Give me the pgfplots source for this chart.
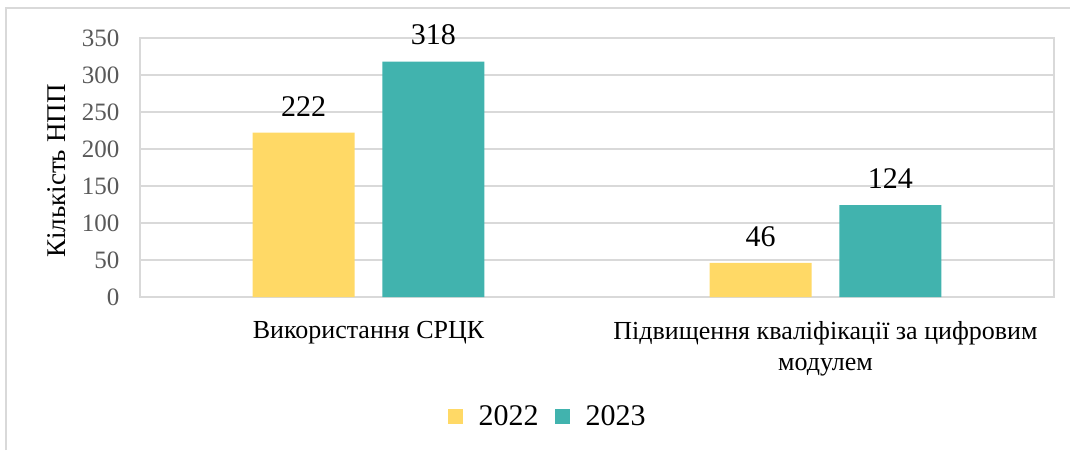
\documentclass[border=0pt]{standalone}
\usepackage{pgfplots}
\pgfplotsset{compat=1.18}
\usepackage{fontspec}
\setmainfont{Liberation Serif}
\definecolor{yel}{HTML}{FFD966}
\definecolor{teal2}{HTML}{41B3AE}
\definecolor{gridc}{HTML}{D9D9D9}
\definecolor{tickc}{HTML}{595959}
\begin{document}
\begin{tikzpicture}[x=1pt,y=1pt]
\useasboundingbox (0,0) rectangle (1070,450);
\draw[gridc, line width=1.2pt] (6,0) -- (6,442) -- (1070,442);
\begin{axis}[
    at={(140pt,153pt)}, anchor=south west,
    scale only axis,
    width=914pt, height=259pt,
    ybar, bar width=0.223,
    xmin=-0.5, xmax=1.5,
    ymin=0, ymax=350,
    ytick={0,50,...,350},
    xtick={0,1},
    xticklabels={Використання СРЦК, {Підвищення кваліфікації за цифровим\\модулем}},
    xticklabel style={align=center, font=\fontsize{26}{31}\selectfont, text=black, yshift=-21pt},
    yticklabel style={font=\fontsize{25}{28}\selectfont, text=tickc, xshift=-17pt},
    /pgf/number format/assume math mode=true,
    major tick length=0pt,
    ymajorgrids=true,
    grid style={gridc, line width=1.2pt},
    axis line style={gridc, line width=1.2pt},
    ylabel={Кількість НПП},
    ylabel style={font=\fontsize{27}{30}\selectfont, at={(axis description cs:-0.0913,0.486)}, anchor=center},
    nodes near coords,
    every node near coord/.append style={font=\fontsize{30}{34}\selectfont, text=black, yshift=13pt},
    legend style={at={(0.446,-0.46)}, anchor=center, draw=none, legend columns=2,
        font=\fontsize{30}{34}\selectfont, column sep=14pt},
    legend image code/.code={\fill[#1] (0pt,-8pt) rectangle (15pt,7pt);},
]
\addplot[fill=yel, draw=none, bar shift=-0.142]
    coordinates {(0,222) (1,46)};
\addplot[fill=teal2, draw=none, bar shift=0.142]
    coordinates {(0,318) (1,124)};
\legend{2022, 2023}
\end{axis}
\end{tikzpicture}
\end{document}
